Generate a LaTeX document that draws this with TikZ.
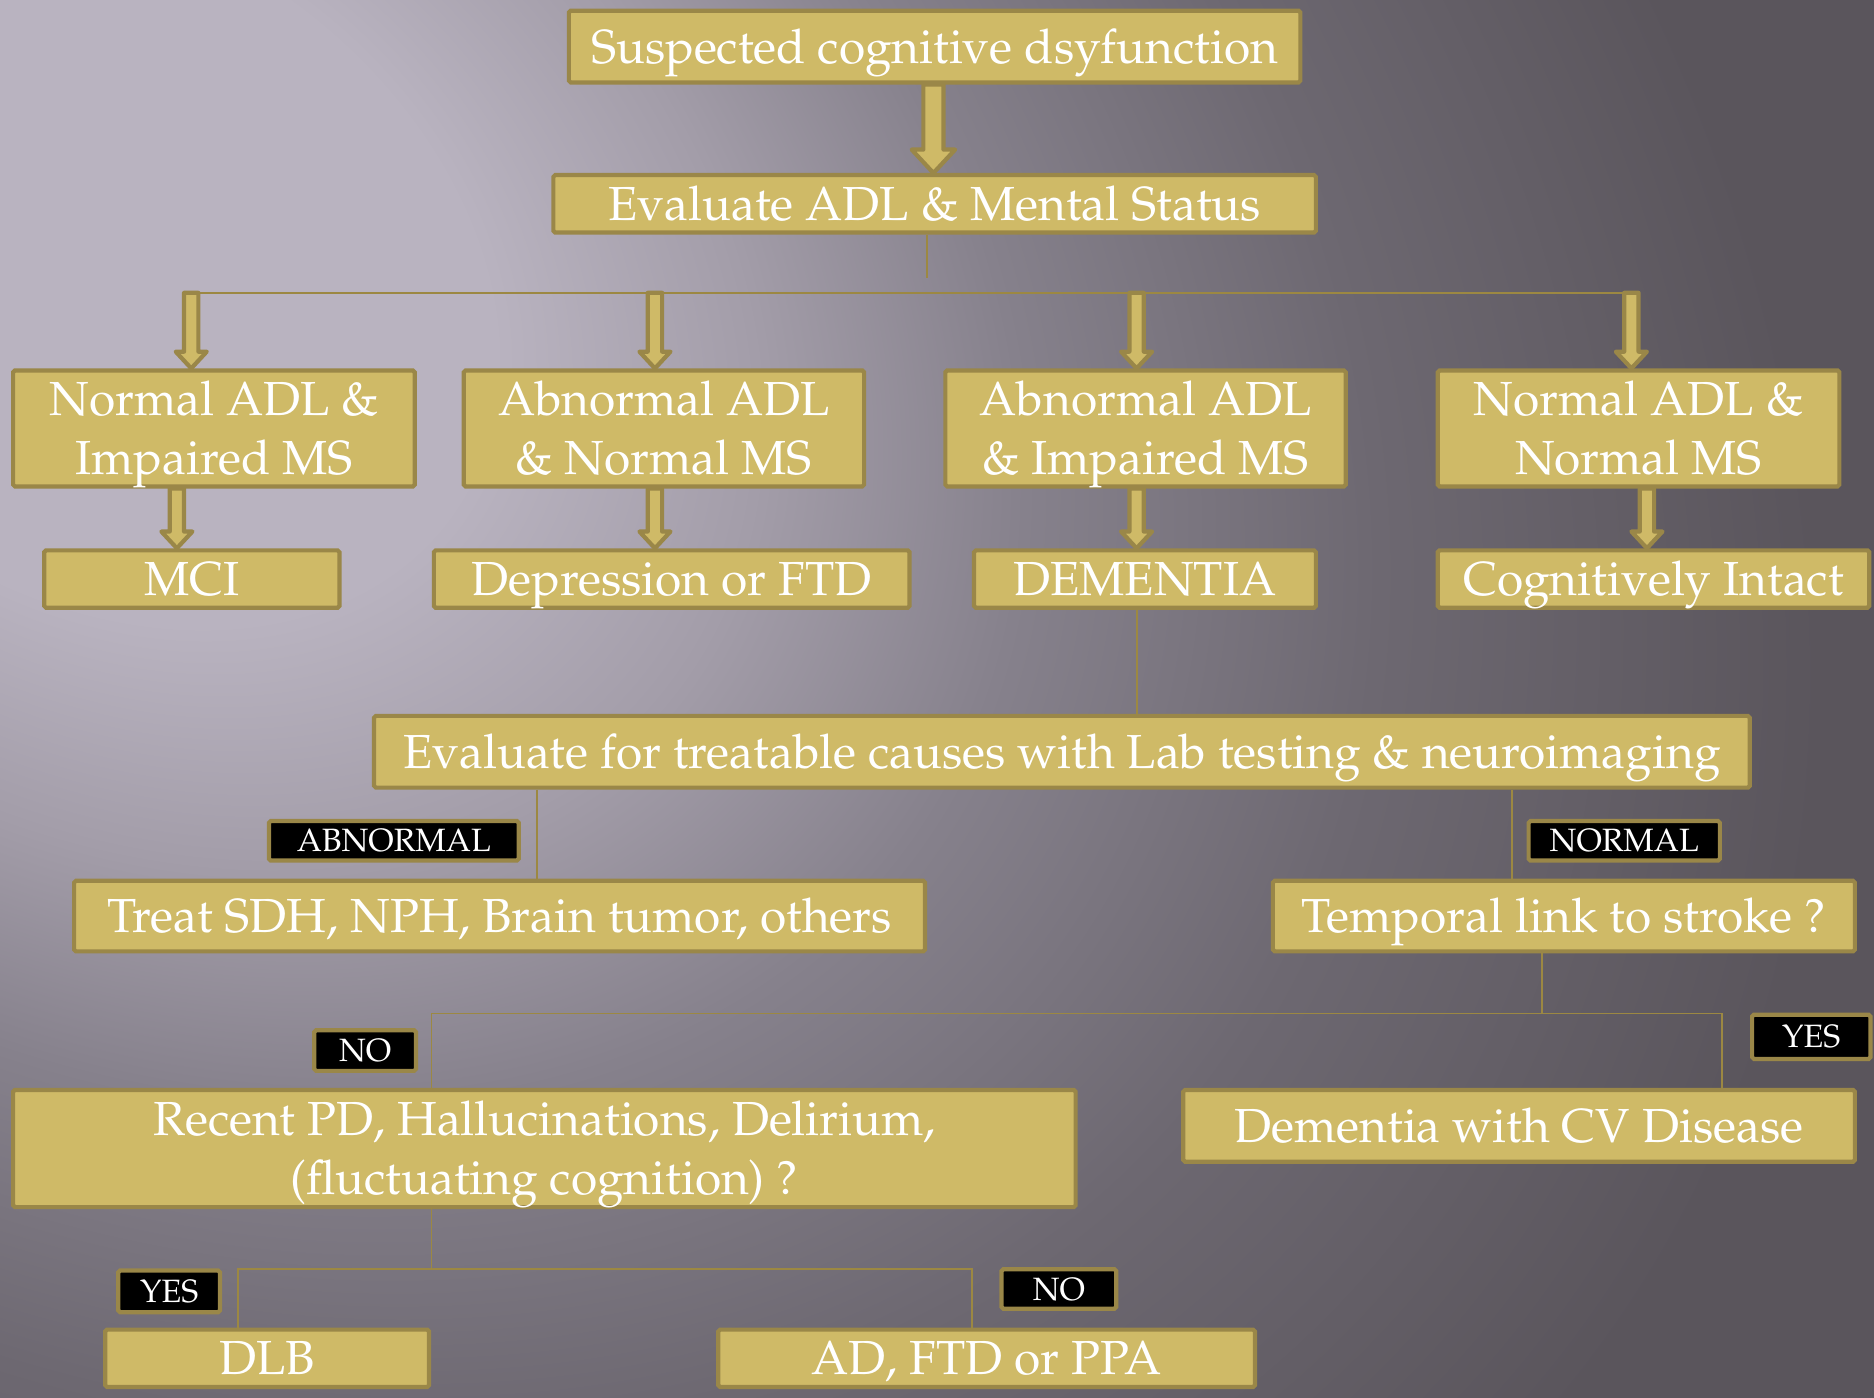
\documentclass[tikz,border=0pt]{standalone}
\usepackage[T1]{fontenc}
\renewcommand{\rmdefault}{ppl}
\usepackage{tikz}
\usetikzlibrary{shapes,arrows,positioning,calc}
\usepackage{xcolor}
\definecolor{boxFillColor}{HTML}{CFBA67}
\definecolor{boxEdgeColor}{HTML}{9A8748}
\definecolor{lineColor}{HTML}{9C8842}
\definecolor{bgLight}{HTML}{B9B3C0}
\definecolor{bgMidA}{HTML}{A39DA9}
\definecolor{bgMidB}{HTML}{86818C}
\definecolor{bgDarkA}{HTML}{6D6871}
\definecolor{bgDarkB}{HTML}{5A555C}
\pgfdeclareradialshading{bgShade}{\pgfpoint{0bp}{0bp}}{color(0bp)=(bgLight); color(4.5bp)=(bgLight); color(7.5bp)=(bgMidA); color(10.5bp)=(bgMidB); color(14.5bp)=(bgDarkA); color(19.5bp)=(bgDarkB); color(50bp)=(bgDarkB)}
\tikzset{
  goldBox/.style = {draw=boxEdgeColor, fill=boxFillColor, line width=3.5pt, rounded corners=1.5pt,
    text=white, align=center, inner sep=0pt, font=\fontsize{40}{49}\selectfont,
    text height=27.6pt, text depth=0pt},% boite doree
  twoLines/.style = {text height=76.6pt},% boite sur deux lignes
  tagBox/.style = {draw=boxEdgeColor, fill=black, line width=3.5pt, rounded corners=1.5pt,
    text=white, inner sep=0pt, font=\fontsize{27}{30}\selectfont,
    text height=18.6pt, text depth=0pt},% etiquette noire
  goldLine/.style = {draw=lineColor, line width=1.6pt},% trait fin
  goldArrow/.style = {draw=boxEdgeColor, fill=boxFillColor, line width=3.5pt, line join=round},% grosse fleche
}
% grosse fleche vers le bas : [facteur]{depart}{pointe}
\newcommand{\goldarrow}[3][1]{%
  \draw[goldArrow] let \p1=(#2), \p2=(#3) in
    (\x1-#1*6pt,\y1) -- (\x1-#1*6pt,\y2+#1*14pt) -- (\x1-#1*13pt,\y2+#1*14pt) -- (\x1,\y2)
    -- (\x1+#1*13pt,\y2+#1*14pt) -- (\x1+#1*6pt,\y2+#1*14pt) -- (\x1+#1*6pt,\y1) -- cycle;}

\begin{document}
\begin{tikzpicture}[x=1pt, y=-1pt]
\useasboundingbox (0,0) rectangle (1568,1169);
\begin{scope}
  \clip (0,0) rectangle (1568,1169);
  \fill[bgDarkB] (0,0) rectangle (1568,1169);
  \begin{scope}[transform canvas={rotate around={-35:(80,220)}}]
    \shade[shading=bgShade] (80,220) ellipse (2000 and 1500);
  \end{scope}
\end{scope}

% boites
\node[goldBox, minimum width=612, minimum height=60] (susp) at (782,39) {Suspected cognitive dsyfunction};
\node[goldBox, minimum width=638, minimum height=48] (evadl) at (782,170.5) {Evaluate ADL \& Mental Status};
\node[goldBox, twoLines, minimum width=336, minimum height=97] (nA) at (179,358.5) {Normal ADL \&\\Impaired MS};
\node[goldBox, twoLines, minimum width=335, minimum height=97] (nB) at (555.5,358.5) {Abnormal ADL\\\& Normal MS};
\node[goldBox, twoLines, minimum width=335, minimum height=97] (nC) at (958.5,358.5) {Abnormal ADL\\\& Impaired MS};
\node[goldBox, twoLines, minimum width=336, minimum height=97] (nD) at (1371,358.5) {Normal ADL \&\\Normal MS};
\node[goldBox, minimum width=247, minimum height=48] (mci) at (160.5,484.5) {MCI};
\node[goldBox, minimum width=398, minimum height=48] (dep) at (562,484.5) {Depression or FTD};
\node[goldBox, minimum width=286, minimum height=48] (dem) at (958,484.5) {DEMENTIA};
\node[goldBox, minimum width=361, minimum height=48] (intact) at (1383.5,484.5) {Cognitively Intact};
\node[goldBox, minimum width=1151, minimum height=60] (evtreat) at (888.5,629) {Evaluate for treatable causes with Lab testing \& neuroimaging};
\node[goldBox, minimum width=712, minimum height=59] (treat) at (418,766.5) {Treat SDH, NPH, Brain tumor, others};
\node[goldBox, minimum width=487, minimum height=59] (temporal) at (1308.5,766.5) {Temporal link to stroke ?};
\node[goldBox, twoLines, minimum width=889, minimum height=98] (recent) at (455.5,961) {Recent PD, Hallucinations, Delirium,\\(fluctuating cognition) ?};
\node[goldBox, minimum width=562, minimum height=60] (cvd) at (1271,942) {Dementia with CV Disease};
\node[goldBox, minimum width=271, minimum height=48] (dlb) at (223.5,1136.5) {DLB};
\node[goldBox, minimum width=449, minimum height=48] (adftd) at (825.5,1136.5) {AD, FTD or PPA};

% etiquettes
\node[tagBox, minimum width=209, minimum height=33] (abnTag) at (329.5,703.5) {ABNORMAL};
\node[tagBox, minimum width=160, minimum height=33] (norTag) at (1359,703.5) {NORMAL};
\node[tagBox, minimum width=85, minimum height=34] (noTagA) at (305.5,879) {NO};
\node[tagBox, minimum width=99, minimum height=37] (yesTagA) at (1515.5,867.5) {YES};
\node[tagBox, minimum width=85, minimum height=35] (yesTagB) at (141.5,1080.5) {YES};
\node[tagBox, minimum width=96, minimum height=33] (noTagB) at (886,1078.5) {NO};

% points de jonction
\coordinate (topArr) at (781,0);
\coordinate (busTop) at (776,233);
\coordinate (busA) at (160,245);
\coordinate (busB) at (548,245);
\coordinate (busC) at (951,245);
\coordinate (busD) at (1365,245);
\coordinate (dnA) at (148,0);
\coordinate (dnD) at (1378,0);
\coordinate (abnX) at (449,0);
\coordinate (norX) at (1265,0);
\coordinate (strokeJ) at (1290,848);
\coordinate (noJ) at (361,848);
\coordinate (yesJ) at (1441,848);
\coordinate (recJ) at (361,1062);
\coordinate (dlbJ) at (199,1062);
\coordinate (adJ) at (813,1062);

% traits fins
\draw[goldLine] (busTop |- evadl.south) -- (busTop);
\draw[goldLine] (busA) -- (busD);
\draw[goldLine] (busC |- dem.south) -- (busC |- evtreat.north);
\draw[goldLine] (abnX |- evtreat.south) -- (abnX |- treat.north);
\draw[goldLine] (norX |- evtreat.south) -- (norX |- temporal.north);
\draw[goldLine] (strokeJ |- temporal.south) -- (strokeJ);
\draw[goldLine] (noJ |- recent.north) -- (noJ) -- (yesJ) -- (yesJ |- cvd.north);
\draw[goldLine] (recJ |- recent.south) -- (recJ);
\draw[goldLine] (dlbJ |- dlb.north) -- (dlbJ) -- (adJ) -- (adJ |- adftd.north);

% grosses fleches
\goldarrow[1.4]{topArr |- susp.south}{topArr |- evadl.north}
\goldarrow{busA}{busA |- nA.north}
\goldarrow{busB}{busB |- nB.north}
\goldarrow{busC}{busC |- nC.north}
\goldarrow{busD}{busD |- nD.north}
\goldarrow{dnA |- nA.south}{dnA |- mci.north}
\goldarrow{busB |- nB.south}{busB |- dep.north}
\goldarrow{busC |- nC.south}{busC |- dem.north}
\goldarrow{dnD |- nD.south}{dnD |- intact.north}
\end{tikzpicture}
\end{document}
